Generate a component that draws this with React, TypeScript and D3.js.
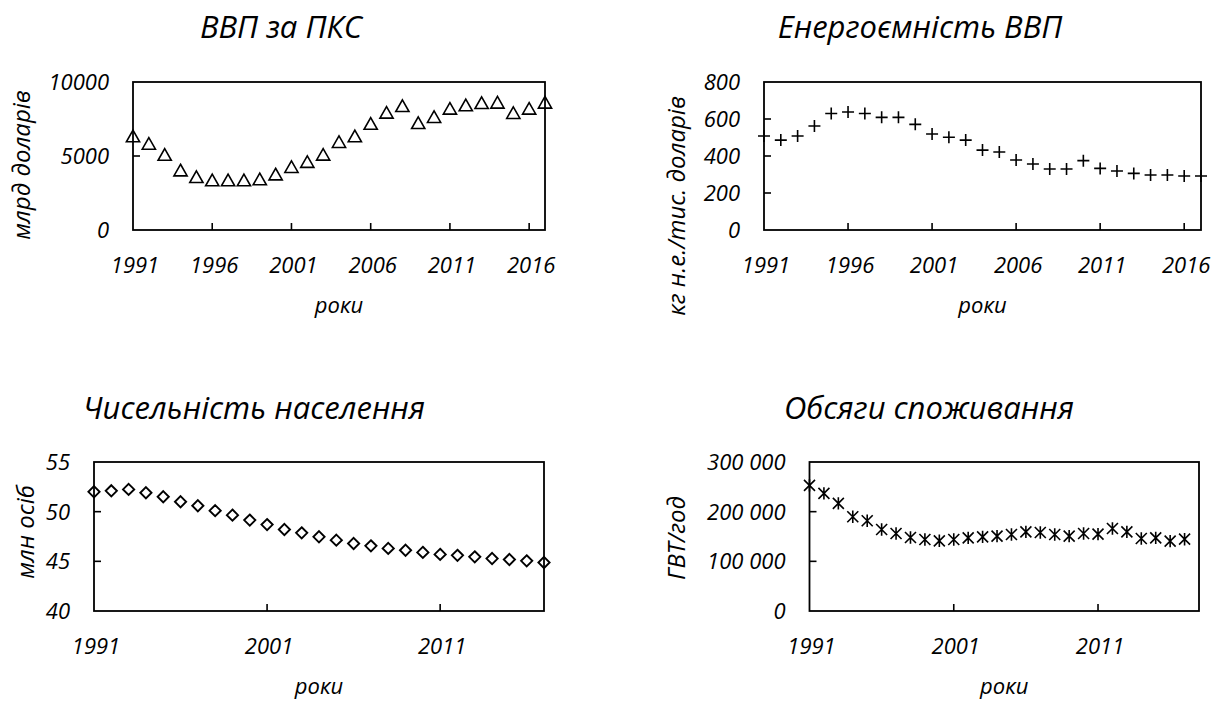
import React from "react";
import * as d3 from "d3";

const years = [1991, 1992, 1993, 1994, 1995, 1996, 1997, 1998, 1999, 2000, 2001, 2002, 2003, 2004, 2005, 2006, 2007, 2008, 2009, 2010, 2011, 2012, 2013, 2014, 2015, 2016, 2017];

const gdpValues = [6350, 5850, 5100, 4050, 3600, 3380, 3380, 3380, 3450, 3780, 4280, 4620, 5110, 5970, 6350, 7200, 7950, 8400, 7250, 7660, 8220, 8450, 8600, 8630, 7930, 8220, 8630];
const energyValues = [508, 486, 508, 562, 630, 638, 630, 609, 609, 571, 519, 501, 486, 432, 422, 378, 357, 330, 330, 375, 333, 319, 306, 297, 297, 292, 292];
const populationValues = [52.0, 52.1, 52.24, 51.9, 51.5, 51.0, 50.6, 50.1, 49.65, 49.15, 48.7, 48.2, 47.87, 47.47, 47.13, 46.8, 46.56, 46.3, 46.12, 45.9, 45.7, 45.6, 45.45, 45.28, 45.18, 45.05, 44.88];
const consumptionValues = [253000, 236800, 216600, 189700, 181600, 164100, 156000, 148000, 144000, 141300, 144000, 147300, 149300, 150700, 154000, 159400, 158000, 154000, 150700, 156000, 154700, 166100, 159400, 146000, 147300, 140600, 144600];

const xTicksTop = [1991, 1996, 2001, 2006, 2011, 2016];
const xTicksBottom = [1991, 2001, 2011];
const gdpTicks = [0, 5000, 10000];
const energyTicks = [0, 200, 400, 600, 800];
const populationTicks = [40, 45, 50, 55];
const consumptionTicks = [0, 100000, 200000, 300000];

const titles = ["ВВП за ПКС", "Енергоємність ВВП", "Чисельність населення", "Обсяги споживання"];
const yTitles = ["млрд доларів", "кг н.е./тис. доларів", "млн осіб", "ГВТ/год"];
const xTitle = "роки";

const FONT = "'Open Sans', 'Noto Sans', sans-serif";

type MarkerKind = "triangle" | "plus" | "diamond" | "star";

const markerPath: Record<MarkerKind, string> = {
  triangle: "M0,-5.8L6.6,5.8L-6.6,5.8Z",
  plus: "M-6,0H6M0,-6V6",
  diamond: "M0,-5.6L5.6,0L0,5.6L-5.6,0Z",
  star: "M-5.5,-5.5L5.5,5.5M5.5,-5.5L-5.5,5.5M0,-6.2V6.2",
};

interface PanelProps {
  x0: number; x1: number; y0: number; y1: number;
  xDomain: [number, number];
  yDomain: [number, number];
  xTicks: number[];
  yTicks: number[];
  values: number[];
  marker: MarkerKind;
  title: string;
  titleX: number; titleY: number;
  yTitle: string;
  yTitleX: number; yTitleY: number;
  fmt: (v: number) => string;
}

function Panel(p: PanelProps) {
  const x = d3.scaleLinear().domain(p.xDomain).range([p.x0, p.x1]);
  const y = d3.scaleLinear().domain(p.yDomain).range([p.y1, p.y0]);
  const tickLen = 7;
  return (
    <g>
      <text x={p.titleX} y={p.titleY} textAnchor="middle" fontSize={31} fontStyle="italic" fontFamily={FONT}>{p.title}</text>
      <rect x={p.x0} y={p.y0} width={p.x1 - p.x0} height={p.y1 - p.y0} fill="none" stroke="#000" strokeWidth={1.8} />
      {p.xTicks.filter((t) => t > p.xDomain[0]).map((t) => (
        <line key={"xt" + t} x1={x(t)} x2={x(t)} y1={p.y1} y2={p.y1 - tickLen} stroke="#000" strokeWidth={1.6} />
      ))}
      {p.yTicks.filter((t) => t > p.yDomain[0] && t < p.yDomain[1]).map((t) => (
        <line key={"yt" + t} x1={p.x0} x2={p.x0 + tickLen} y1={y(t)} y2={y(t)} stroke="#000" strokeWidth={1.6} />
      ))}
      {p.xTicks.map((t) => (
        <text key={"xl" + t} x={x(t) + 2} y={p.y1 + 43} textAnchor="middle" fontSize={22} fontStyle="italic" fontFamily={FONT}>{String(t)}</text>
      ))}
      {p.yTicks.map((t) => (
        <text key={"yl" + t} x={p.x0 - 24} y={y(t)} dy="0.36em" textAnchor="end" fontSize={22} fontStyle="italic" fontFamily={FONT}>{p.fmt(t)}</text>
      ))}
      <text x={(p.x0 + p.x1) / 2} y={p.y1 + 83} textAnchor="middle" fontSize={22} fontStyle="italic" fontFamily={FONT}>{xTitle}</text>
      <text transform={`translate(${p.yTitleX},${p.yTitleY}) rotate(-90)`} textAnchor="middle" fontSize={24} fontStyle="italic" fontFamily={FONT}>{p.yTitle}</text>
      {p.values.map((v, i) => (
        <path key={"m" + i} d={markerPath[p.marker]} transform={`translate(${x(years[i])},${y(v)})`} fill="none" stroke="#000" strokeWidth={p.marker === "diamond" ? 1.9 : 1.6} />
      ))}
    </g>
  );
}

const plain = (v: number) => String(v);
const spaced = (v: number) => d3.format(",")(v).replace(/,/g, " ");

export default function App() {
  return (
    <svg width={1214} height={701} style={{ position: "absolute", left: 0, top: 0, background: "#fff" }}>
      <rect x={0} y={0} width={1214} height={701} fill="#fff" />
      <Panel x0={133} x1={545} y0={82} y1={230} xDomain={[1991, 2017]} yDomain={[0, 10000]}
        xTicks={xTicksTop} yTicks={gdpTicks} values={gdpValues} marker="triangle"
        title={titles[0]} titleX={281} titleY={38} yTitle={yTitles[0]} yTitleX={30} yTitleY={165} fmt={plain} />
      <Panel x0={764} x1={1201} y0={82} y1={230} xDomain={[1991, 2017]} yDomain={[0, 800]}
        xTicks={xTicksTop} yTicks={energyTicks} values={energyValues} marker="plus"
        title={titles[1]} titleX={920} titleY={38} yTitle={yTitles[1]} yTitleX={685} yTitleY={206} fmt={plain} />
      <Panel x0={94} x1={544} y0={462} y1={611} xDomain={[1991, 2017]} yDomain={[40, 55]}
        xTicks={xTicksBottom} yTicks={populationTicks} values={populationValues} marker="diamond"
        title={titles[2]} titleX={254} titleY={419} yTitle={yTitles[2]} yTitleX={34} yTitleY={532} fmt={plain} />
      <Panel x0={809.5} x1={1199} y0={462} y1={611} xDomain={[1991, 2018]} yDomain={[0, 300000]}
        xTicks={xTicksBottom} yTicks={consumptionTicks} values={consumptionValues} marker="star"
        title={titles[3]} titleX={929} titleY={419} yTitle={yTitles[3]} yTitleX={685} yTitleY={538} fmt={spaced} />
    </svg>
  );
}
